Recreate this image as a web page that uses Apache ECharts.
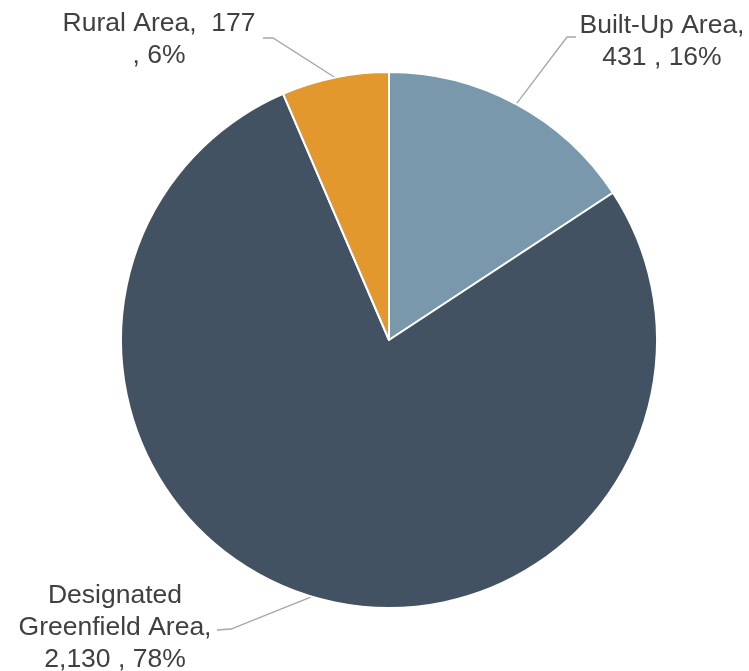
<!DOCTYPE html>
<html>
<head>
<meta charset="utf-8">
<script src="https://cdn.jsdelivr.net/npm/echarts@6/dist/echarts.min.js"></script>
<style>
  html, body { margin: 0; padding: 0; background: #fff; }
  #main { width: 749px; height: 671px; }
</style>
</head>
<body>
<div id="main"></div>
<script>
// data
const categories = ['Built-Up Area', 'Designated Greenfield Area', 'Rural Area'];
const areaValues = [431, 2130, 177];
const sliceColors = ['#7a98ab', '#425263', '#e3982e'];

// how each label text is wrapped
const labelTemplates = [
    '{n},\n{v} , {p}%',
    '{n},\n{v} , {p}%',
    '{n},  {v}\n, {p}%'
];
const wrapName = [false, true, false];

// where the labels sit (text anchor, leader line bend + end)
const labelPos = [
    { x: 662, y: 10, bend: [567, 37], end: [576, 37] },
    { x: 115, y: 580, bend: [231, 629], end: [217, 630] },
    { x: 159, y: 8, bend: [273, 38], end: [263, 38] }
];

const chart = echarts.init(document.getElementById('main'));

const option = {
    backgroundColor: '#ffffff',
    animation: false,
    series: [{
        type: 'pie',
        center: [389, 340],
        radius: 268,
        startAngle: 90,
        clockwise: true,
        data: categories.map(function (name, i) {
            return { name: name, value: areaValues[i], itemStyle: { color: sliceColors[i] } };
        }),
        itemStyle: {
            borderColor: '#ffffff',
            borderWidth: 2
        },
        label: {
            show: true,
            position: 'outside',
            color: '#404040',
            fontFamily: 'Liberation Sans, Arial, sans-serif',
            fontSize: 26.5,
            lineHeight: 32,
            align: 'center',
            formatter: function (p) {
                const i = p.dataIndex;
                const n = wrapName[i] ? p.name.replace(' ', '\n') : p.name;
                return labelTemplates[i]
                    .replace('{n}', n)
                    .replace('{v}', p.value.toLocaleString('en-US'))
                    .replace('{p}', Math.round(p.percent));
            }
        },
        labelLine: {
            show: true,
            length: 20,
            length2: 10,
            lineStyle: { color: '#a6a6a6', width: 1.3 }
        },
        emphasis: { disabled: true }
    }]
};

option.series[0].labelLayout = function (params) {
    const lp = labelPos[params.dataIndex];
    const start = params.labelLinePoints ? params.labelLinePoints[0] : lp.bend;
    return {
        x: lp.x,
        y: lp.y,
        align: 'center',
        verticalAlign: 'top',
        labelLinePoints: [start, lp.bend, lp.end]
    };
};

chart.setOption(option);
</script>
</body>
</html>
